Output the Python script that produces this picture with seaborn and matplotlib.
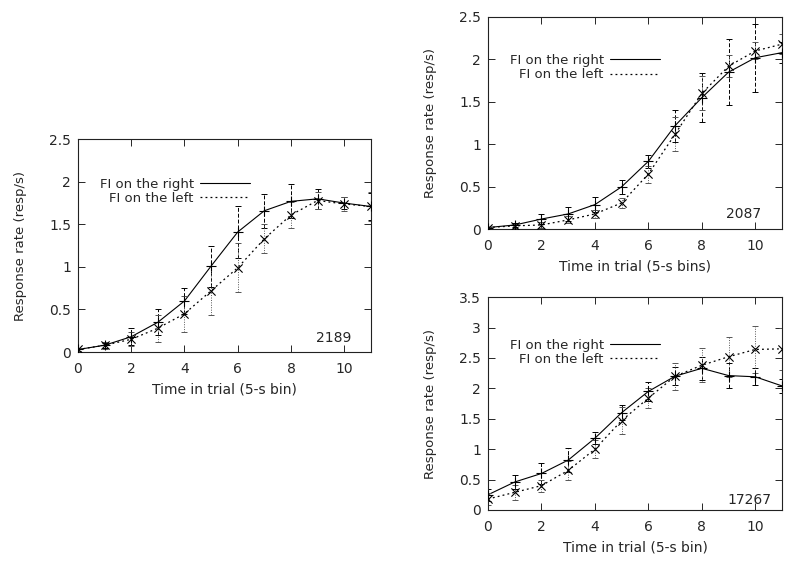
import numpy as np
import pandas as pd
import matplotlib
matplotlib.use("Agg")
import matplotlib.pyplot as plt
import seaborn as sns

# time bins (5-s)
bins = np.arange(12)

# rat 2189
r2189_right = [0.03, 0.08, 0.18, 0.35, 0.60, 1.01, 1.41, 1.66, 1.77, 1.80, 1.75, 1.71]
r2189_right_err = [0.02, 0.03, 0.10, 0.15, 0.15, 0.24, 0.31, 0.20, 0.20, 0.12, 0.07, 0.16]
r2189_left = [0.03, 0.08, 0.15, 0.28, 0.45, 0.72, 0.99, 1.33, 1.61, 1.78, 1.74, 1.71]
r2189_left_err = [0.02, 0.04, 0.08, 0.16, 0.21, 0.29, 0.29, 0.17, 0.15, 0.10, 0.08, 0.17]

# rat 2087
r2087_right = [0.02, 0.05, 0.12, 0.18, 0.29, 0.50, 0.80, 1.22, 1.55, 1.85, 2.02, 2.08]
r2087_right_err = [0.01, 0.02, 0.06, 0.08, 0.09, 0.08, 0.08, 0.19, 0.29, 0.39, 0.40, 0.12]
r2087_left = [0.02, 0.04, 0.05, 0.11, 0.18, 0.31, 0.65, 1.12, 1.60, 1.92, 2.10, 2.18]
r2087_left_err = [0.01, 0.02, 0.03, 0.04, 0.05, 0.06, 0.10, 0.20, 0.20, 0.13, 0.10, 0.12]

# rat 17267
r17267_right = [0.25, 0.46, 0.60, 0.82, 1.18, 1.60, 1.95, 2.20, 2.33, 2.21, 2.19, 2.04]
r17267_right_err = [0.10, 0.11, 0.17, 0.20, 0.10, 0.12, 0.15, 0.15, 0.19, 0.20, 0.14, 0.12]
r17267_left = [0.18, 0.29, 0.40, 0.65, 1.00, 1.47, 1.84, 2.20, 2.38, 2.52, 2.64, 2.65]
r17267_left_err = [0.10, 0.12, 0.10, 0.15, 0.15, 0.22, 0.17, 0.22, 0.28, 0.33, 0.38, 0.35]

sns.set_style("ticks")
plt.rcParams["font.family"] = ["DejaVu Sans"]
plt.rcParams["font.size"] = 10

fig = plt.figure(figsize=(8, 5.66), dpi=100)

panels = [
    # rect, right, right err, left, left err, ymax, xlabel, id, id pos, legend anchor
    ([0.0975, 0.378, 0.366, 0.376], r2189_right, r2189_right_err, r2189_left, r2189_left_err,
     2.5, "Time in trial (5-s bin)", "2189", (0.935, 0.035), (0.605, 0.845)),
    ([0.61, 0.595, 0.3675, 0.375], r2087_right, r2087_right_err, r2087_left, r2087_left_err,
     2.5, "Time in trial (5-s bins)", "2087", (0.93, 0.04), (0.602, 0.85)),
    ([0.61, 0.099, 0.3675, 0.376], r17267_right, r17267_right_err, r17267_left, r17267_left_err,
     3.5, "Time in trial (5-s bin)", "17267", (0.965, 0.015), (0.602, 0.83)),
]

for rect, right, right_err, left, left_err, ymax, xlab, rat, idpos, legpos in panels:
    ax = fig.add_axes(rect)
    df = pd.DataFrame({"bin": bins, "right": right, "left": left})

    sns.lineplot(data=df, x="bin", y="right", ax=ax, color="black", lw=0.8,
                 label="FI on the right")
    sns.lineplot(data=df, x="bin", y="left", ax=ax, color="black", lw=0.9,
                 linestyle=(0, (1.5, 2.5)), label="FI on the left")

    # error bars + point markers
    eb = ax.errorbar(bins, right, yerr=right_err, fmt="none", ecolor="black",
                     elinewidth=0.7, capsize=2.5, capthick=0.7)
    eb[2][0].set_linestyle((0, (4, 2)))
    eb = ax.errorbar(bins, left, yerr=left_err, fmt="none", ecolor="#555555",
                     elinewidth=0.7, capsize=2.5, capthick=0.7)
    eb[2][0].set_linestyle((0, (1, 1.5)))
    ax.scatter(bins, right, marker="+", s=45, color="black", lw=0.8, zorder=3)
    ax.scatter(bins, left, marker="x", s=35, color="black", lw=0.8, zorder=3)

    ax.set_xlim(0, 11)
    ax.set_ylim(0, ymax)
    ax.set_xticks(np.arange(0, 11, 2))
    ax.set_yticks(np.arange(0, ymax + 0.01, 0.5))
    ax.set_yticklabels([f"{v:g}" for v in np.arange(0, ymax + 0.01, 0.5)])
    ax.tick_params(direction="in", length=5, width=0.7, top=True, right=True,
                   labelsize=10)
    ax.tick_params(axis="x", pad=7)
    ax.tick_params(axis="y", pad=5)
    for s in ax.spines.values():
        s.set_linewidth(0.8)
        s.set_color("#222222")

    ax.set_xlabel(xlab, fontsize=10, labelpad=5)
    ax.set_ylabel("Response rate (resp/s)", fontsize=9.5, labelpad=16)

    ax.legend(loc="upper right", bbox_to_anchor=legpos, borderaxespad=0,
              frameon=False, markerfirst=False, handlelength=3.8,
              handletextpad=0.45, labelspacing=0.1, fontsize=9.5)
    ax.text(idpos[0], idpos[1], rat, transform=ax.transAxes, ha="right",
            va="bottom", fontsize=10)

fig.savefig("out.png", dpi=100)
